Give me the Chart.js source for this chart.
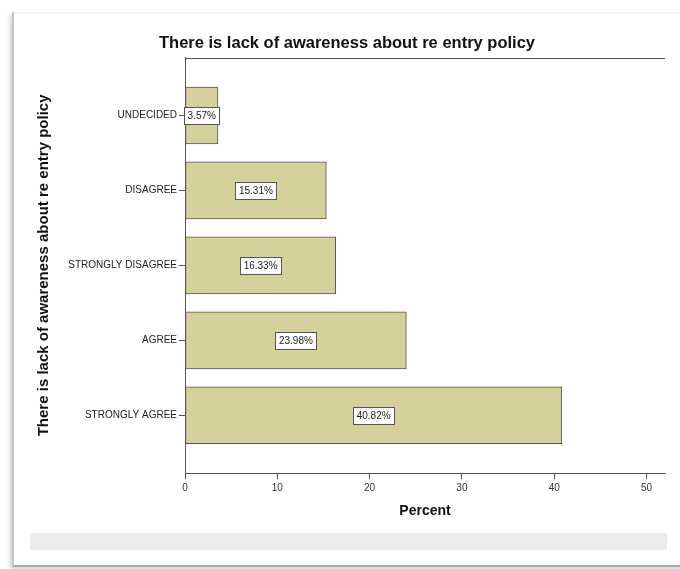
<!DOCTYPE html>
<html>
<head>
<meta charset="utf-8">
<script src="https://cdn.jsdelivr.net/npm/chart.js@4"></script>
<style>
  body { margin: 0; background: #fff; }
  #wrap { position: relative; width: 680px; height: 569px; overflow: hidden; }
  #frame {
    position: absolute; left: 12px; top: 12px; width: 700px; height: 552px;
    border-left: 2px solid #c4c4c4; border-top: 1px solid #ececec; border-bottom: 2px solid #a8a8a8;
    box-shadow: -2px 2px 4px rgba(0,0,0,0.18);
  }
  #band { position: absolute; left: 30px; top: 533px; width: 637px; height: 17px; background: #ececec; }
  canvas { position: absolute; left: 0; top: 0; }
</style>
</head>
<body>
<div id="wrap">
  <div id="frame"></div>
  <div id="band"></div>
  <canvas id="barChart" width="680" height="569"></canvas>
</div>
<script>
document.addEventListener('DOMContentLoaded', function() {

const categories = ['UNDECIDED', 'DISAGREE', 'STRONGLY DISAGREE', 'AGREE', 'STRONGLY AGREE'];
const percents = [3.57, 15.31, 16.33, 23.98, 40.82];
const xTicks = [0, 10, 20, 30, 40, 50];
const titleText = 'There is lack of awareness about re entry policy';

// white value boxes in the middle of each bar
const valueBoxes = {
  id: 'valueBoxes',
  afterDatasetsDraw(chart) {
    const ctx = chart.ctx;
    const meta = chart.getDatasetMeta(0);
    ctx.save();
    ctx.font = '10px "Liberation Sans", Arial, sans-serif';
    ctx.textAlign = 'center';
    ctx.textBaseline = 'middle';
    meta.data.forEach(function(bar, i) {
      const txt = percents[i].toFixed(2) + '%';
      const cx = (bar.x + bar.base) / 2;
      const w = ctx.measureText(txt).width + 7;
      const h = 17;
      ctx.fillStyle = '#fff';
      ctx.fillRect(Math.round(cx - w / 2) + 0.5, Math.round(bar.y - h / 2) + 0.5, Math.round(w), h);
      ctx.strokeStyle = '#555';
      ctx.lineWidth = 1;
      ctx.strokeRect(Math.round(cx - w / 2) + 0.5, Math.round(bar.y - h / 2) + 0.5, Math.round(w), h);
      ctx.fillStyle = '#222';
      ctx.fillText(txt, cx, bar.y + 1);
    });
    ctx.restore();
  }
};

// line across the top of the plot area
const topLine = {
  id: 'topLine',
  afterDraw(chart) {
    const a = chart.chartArea;
    const ctx = chart.ctx;
    ctx.save();
    ctx.strokeStyle = '#555';
    ctx.lineWidth = 1;
    ctx.beginPath();
    ctx.moveTo(a.left, Math.round(a.top) + 0.5);
    ctx.lineTo(a.right, Math.round(a.top) + 0.5);
    ctx.stroke();
    ctx.restore();
  }
};

const barCtx = document.getElementById('barChart').getContext('2d');
const barChart = new Chart(barCtx, {
  type: 'bar',
  data: {
    datasets: [{
      data: categories.map((c, i) => ({ x: percents[i], y: i })),
      backgroundColor: '#d5d09c',
      borderColor: '#555',
      borderWidth: 1,
      borderSkipped: false,
      barThickness: 57
    }]
  },
  plugins: [valueBoxes, topLine],
  options: {
    responsive: false,
    animation: false,
    indexAxis: 'y',
    layout: { padding: { left: 29, right: 15, top: 0, bottom: 46 } },
    plugins: {
      legend: { display: false },
      tooltip: { enabled: false },
      title: {
        display: true,
        text: titleText,
        color: '#111',
        font: { family: '"Liberation Sans", Arial, sans-serif', size: 16.5, weight: 'bold', lineHeight: 1.2 },
        padding: { top: 34, bottom: 4 }
      }
    },
    scales: {
      x: {
        type: 'linear',
        min: 0,
        max: 52,
        afterFit(scale) { scale.height = 50; },
        afterBuildTicks(scale) { scale.ticks = xTicks.map(v => ({ value: v })); },
        ticks: {
          color: '#333',
          padding: 3,
          font: { family: '"Liberation Sans", Arial, sans-serif', size: 10 }
        },
        grid: { drawOnChartArea: false, drawTicks: true, tickLength: 6, color: '#555' },
        border: { display: true, color: '#555' },
        title: {
          display: true,
          text: 'Percent',
          color: '#111',
          font: { family: '"Liberation Sans", Arial, sans-serif', size: 14, weight: 'bold' },
          padding: { top: 0, bottom: 3 }
        }
      },
      y: {
        type: 'linear',
        reverse: true,
        offset: false,
        min: -0.77,
        max: categories.length - 1 + 0.77,
        afterFit(scale) { scale.width = 156; },
        afterBuildTicks(scale) { scale.ticks = categories.map((c, i) => ({ value: i })); },
        ticks: {
          autoSkip: false,
          color: '#222',
          padding: 2,
          font: { family: '"Liberation Sans", Arial, sans-serif', size: 10 },
          callback: (v) => categories[v]
        },
        grid: { offset: false, drawOnChartArea: false, drawTicks: true, tickLength: 6, color: '#555' },
        border: { display: true, color: '#555' },
        title: {
          display: true,
          text: titleText,
          color: '#111',
          font: { family: '"Liberation Sans", Arial, sans-serif', size: 15, weight: 'bold' },
          padding: { top: 6, bottom: 0 }
        }
      }
    }
  }
});

});
</script>
</body>
</html>
